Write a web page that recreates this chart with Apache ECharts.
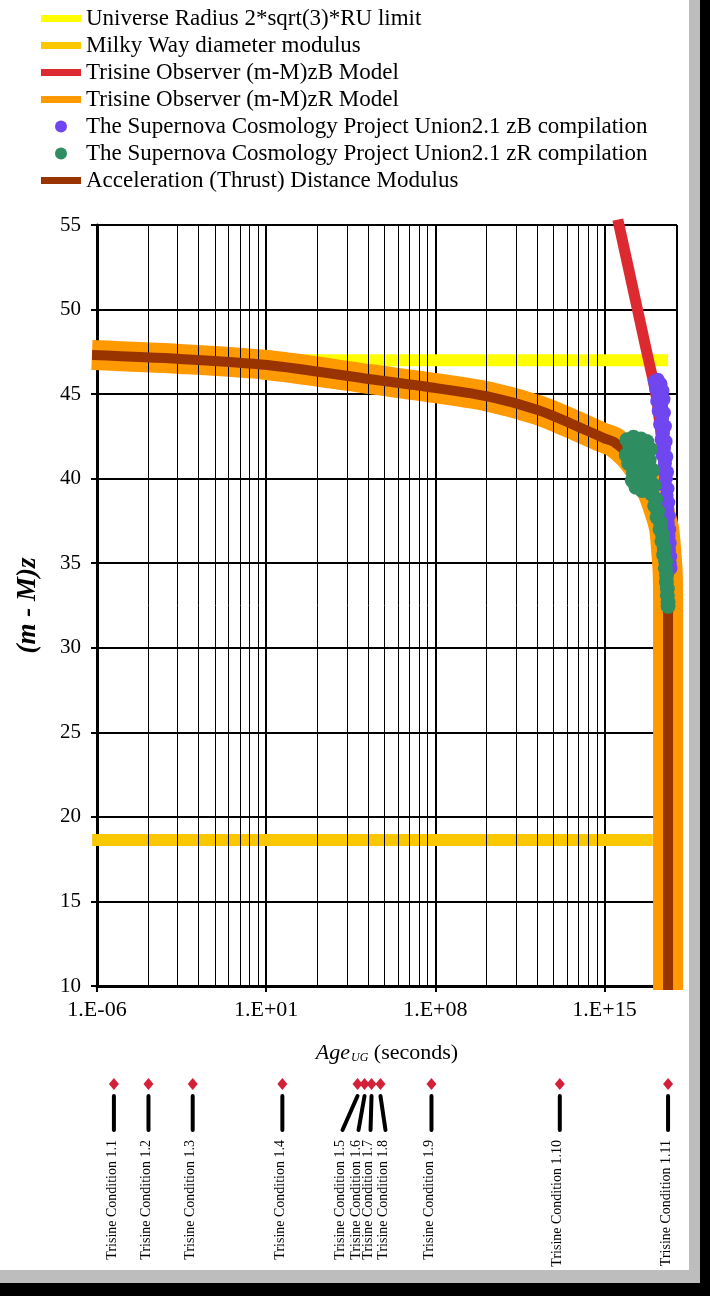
<!DOCTYPE html>
<html>
<head>
<meta charset="utf-8">
<script src="https://cdn.jsdelivr.net/npm/echarts@6/dist/echarts.min.js"></script>
<style>
  html, body { margin: 0; padding: 0; background: #000; }
  #sheet { position: absolute; left: 0; top: 0; width: 700px; height: 1283px; background: #bdbdbd; }
  #paper { position: absolute; left: 0; top: 0; width: 689px; height: 1270px; background: #fff; }
  #chart { position: absolute; left: 0; top: 0; width: 710px; height: 1296px; }
</style>
</head>
<body>
<div id="sheet"></div>
<div id="paper"></div>
<div id="chart"></div>
<script>
// Ages are stored as log10(age in seconds); magnitudes are distance moduli (m - M).
const xTickLabels = ['1.E-06', '1.E+01', '1.E+08', '1.E+15'];

const universeRadiusAge = [-6.0, 17.63];
const universeRadiusMu  = [47.0, 47.0];

const milkyWayAge = [-6.2, 17.0];
const milkyWayMu  = [18.63, 18.63];

const zBModelAge = [15.60, 15.99, 16.37, 16.64, 16.82, 17.01, 17.17, 17.32, 17.44, 17.56, 17.69, 17.75];
const zBModelMu  = [55.0, 52.46, 49.97, 48.20, 47.02, 45.83, 44.65, 42.88, 41.10, 38.74, 36.37, 34.89];

const zRModelAge = [-6.21, -2.56, 1.05, 5.32, 8.09, 10.17, 12.24, 13.61, 14.97, 15.39, 16.01, 16.59, 16.96, 17.25, 17.46, 17.54, 17.61, 17.63, 17.63];
const zRModelMu  = [47.31, 47.08, 46.72, 45.88, 45.34, 44.86, 44.06, 43.26, 42.40, 42.17, 41.40, 40.28, 39.27, 38.15, 37.08, 35.96, 34.60, 32.82, 9.76];

const thrustAge = [-6.21, -2.56, 1.05, 5.32, 8.09, 10.17, 12.24, 13.61, 14.97, 15.39, 16.01, 16.59, 16.96, 17.25, 17.46, 17.54, 17.61, 17.63, 17.63];
const thrustMu  = [47.31, 47.08, 46.72, 45.88, 45.34, 44.86, 44.06, 43.26, 42.40, 42.17, 41.40, 40.28, 39.27, 38.15, 37.08, 35.96, 34.60, 32.82, 9.76];

const union21zBAge = [17.08, 17.20, 17.32, 17.14, 17.40, 17.26, 17.18, 17.44, 17.34, 17.24, 17.46, 17.38, 17.30, 17.50, 17.42, 17.36, 17.53, 17.46, 17.40, 17.56, 17.50, 17.45, 17.59, 17.54, 17.50, 17.61, 17.57, 17.64, 17.60, 17.66, 17.62, 17.68, 17.65, 17.70, 17.67, 17.72, 17.70, 17.73];
const union21zBMu  = [45.75, 45.85, 45.60, 45.30, 45.20, 44.95, 44.60, 44.70, 44.30, 44.00, 43.90, 43.55, 43.20, 43.10, 42.70, 42.30, 42.20, 41.80, 41.40, 41.30, 40.90, 40.50, 40.40, 40.00, 39.60, 39.40, 39.00, 38.60, 38.20, 37.80, 37.40, 37.00, 36.60, 36.20, 35.80, 35.40, 35.00, 34.70];

const union21zRAge = [15.93, 16.20, 16.50, 16.75, 16.05, 16.38, 16.65, 16.90, 15.90, 16.22, 16.55, 16.85, 16.00, 16.35, 16.70, 17.00, 16.20, 16.50, 16.85, 16.15, 16.40, 16.30, 16.75, 16.55, 17.05, 16.95, 17.12, 17.08, 17.20, 17.18, 17.32, 17.30, 17.40, 17.38, 17.47, 17.45, 17.53, 17.52, 17.57, 17.56, 17.60, 17.60, 17.63, 17.63];
const union21zRMu  = [42.30, 42.45, 42.35, 42.20, 41.90, 41.85, 41.70, 41.75, 41.40, 41.30, 41.20, 41.10, 40.90, 40.70, 40.60, 40.50, 40.30, 40.10, 40.00, 39.90, 39.70, 39.50, 39.50, 39.30, 39.60, 39.10, 38.80, 38.40, 38.10, 37.70, 37.40, 37.00, 36.70, 36.30, 35.90, 35.50, 35.10, 34.70, 34.30, 33.90, 33.50, 33.10, 32.70, 32.45];

const conditionNames = ['Trisine Condition 1.1', 'Trisine Condition 1.2', 'Trisine Condition 1.3', 'Trisine Condition 1.4',
  'Trisine Condition 1.5', 'Trisine Condition 1.6', 'Trisine Condition 1.7', 'Trisine Condition 1.8',
  'Trisine Condition 1.9', 'Trisine Condition 1.10', 'Trisine Condition 1.11'];
const conditionAge = [-5.30, -3.87, -2.04, 1.67, 4.78, 5.07, 5.36, 5.73, 7.84, 13.15, 17.63];

// Layout: sideways nudge (px) of the leader ends so crowded labels do not collide.
const LEADER_SHIFT = [0, 0, 0, 0, -15, -6, -1, 5, 0, 0, 0];

// The age axis is counted from 1.E-06 so that 7-decade steps land on the labelled powers.
const AXIS_ORIGIN = -6;
const toAxis = e => e - AXIS_ORIGIN;
const pairs = (ages, mus) => ages.map((a, i) => [toAxis(a), mus[i]]);

// Minor verticals of a base-1e7 log axis: k * (1e7)^n for k = 2..9.
const minorGrid = [];
for (let band = 0; band < 3; band++) {
  for (let k = 2; k <= 9; k++) minorGrid.push({ xAxis: band * 7 + 7 * Math.log10(k) });
}

const SERIF = '"Liberation Serif", "Times New Roman", serif';
const COLORS = {
  universe: '#FFFF00', milky: '#F9C800', zB: '#DD2A30', zR: '#FF9900',
  sn_zB: '#7046F0', sn_zR: '#2F8D62', thrust: '#993300'
};
const barIcon = 'path://M0,0h40v7H0z';

const chart = echarts.init(document.getElementById('chart'), null, { renderer: 'canvas' });

const lineBase = { type: 'line', showSymbol: false, symbol: 'none', clip: false, animation: false, silent: true };

chart.setOption({
  backgroundColor: 'transparent',
  animation: false,
  legend: {
    orient: 'vertical', left: 36, top: 2,
    itemWidth: 40, itemHeight: 12, itemGap: 4,
    symbolKeepAspect: true,
    textStyle: { fontFamily: SERIF, fontSize: 23, color: '#000', lineHeight: 22 },
    selectedMode: false,
    data: [
      { name: 'Universe Radius 2*sqrt(3)*RU limit', icon: barIcon },
      { name: 'Milky Way diameter modulus', icon: barIcon },
      { name: 'Trisine Observer (m-M)zB Model', icon: barIcon },
      { name: 'Trisine Observer (m-M)zR Model', icon: barIcon },
      { name: 'The Supernova Cosmology Project Union2.1 zB compilation', icon: 'circle' },
      { name: 'The Supernova Cosmology Project Union2.1 zR compilation', icon: 'circle' },
      { name: 'Acceleration (Thrust) Distance Modulus', icon: barIcon }
    ]
  },
  grid: [
    { left: 97, top: 225, width: 580, height: 761 },
    { left: 97, top: 1084, width: 580, height: 20 }
  ],
  xAxis: [
    {
      type: 'value', gridIndex: 0, min: 0, max: 24, interval: 7,
      name: '{i|Age}{s|UG}{n| (seconds)}', nameLocation: 'middle', nameGap: 56,
      nameTextStyle: {
        rich: {
          i: { fontFamily: SERIF, fontSize: 22, fontStyle: 'italic', color: '#000' },
          s: { fontFamily: SERIF, fontSize: 12, fontStyle: 'italic', color: '#000', padding: [10, 0, 0, 1] },
          n: { fontFamily: SERIF, fontSize: 22, color: '#000' }
        }
      },
      axisLine: { show: true, onZero: false, lineStyle: { color: '#000', width: 3 } },
      axisTick: { show: true, length: 6, lineStyle: { color: '#000', width: 2 } },
      axisLabel: {
        fontFamily: SERIF, fontSize: 22, color: '#000', margin: 13, showMaxLabel: false,
        formatter: v => xTickLabels[Math.round(v / 7)] || ''
      },
      splitLine: { show: true, lineStyle: { color: '#000', width: 2 } }
    },
    { type: 'value', gridIndex: 1, min: 0, max: 24, show: false }
  ],
  yAxis: [
    {
      type: 'value', gridIndex: 0, min: 10, max: 55, interval: 5,
      name: '{a|(m - M)z}', nameLocation: 'middle', nameGap: 55, nameRotate: 90,
      nameTextStyle: { rich: { a: { fontFamily: SERIF, fontSize: 27, fontStyle: 'italic', fontWeight: 'bold', color: '#000' } } },
      axisLine: { show: true, lineStyle: { color: '#000', width: 3 } },
      axisTick: { show: true, length: 6, lineStyle: { color: '#000', width: 2 } },
      axisLabel: { fontFamily: SERIF, fontSize: 21, color: '#000', margin: 16 },
      splitLine: { show: true, lineStyle: { color: '#000', width: 2 } }
    },
    { type: 'value', gridIndex: 1, min: 0, max: 1, show: false }
  ],
  series: [
    {
      // minor vertical grid lines
      name: 'grid-minor', type: 'line', data: [], z: 1, silent: true, animation: false,
      markLine: {
        silent: true, animation: false, symbol: ['none', 'none'], label: { show: false },
        lineStyle: { color: '#000', width: 1, type: 'solid' }, data: minorGrid
      }
    },
    Object.assign({}, lineBase, {
      name: 'Universe Radius 2*sqrt(3)*RU limit', z: 2, color: COLORS.universe,
      lineStyle: { width: 12, cap: 'butt' }, data: pairs(universeRadiusAge, universeRadiusMu)
    }),
    Object.assign({}, lineBase, {
      name: 'Milky Way diameter modulus', z: 2, color: COLORS.milky,
      lineStyle: { width: 12, cap: 'butt' }, data: pairs(milkyWayAge, milkyWayMu)
    }),
    Object.assign({}, lineBase, {
      name: 'Trisine Observer (m-M)zB Model', z: 3, color: COLORS.zB,
      lineStyle: { width: 11, cap: 'square', join: 'round' }, data: pairs(zBModelAge, zBModelMu)
    }),
    Object.assign({}, lineBase, {
      name: 'Trisine Observer (m-M)zR Model', z: 4, color: COLORS.zR, smooth: 0.3,
      lineStyle: { width: 30, cap: 'butt', join: 'round' }, data: pairs(zRModelAge, zRModelMu)
    }),
    Object.assign({}, lineBase, {
      name: 'Acceleration (Thrust) Distance Modulus', z: 5, color: COLORS.thrust, smooth: 0.3,
      lineStyle: { width: 10, cap: 'butt', join: 'round' }, data: pairs(thrustAge, thrustMu)
    }),
    {
      name: 'The Supernova Cosmology Project Union2.1 zB compilation', type: 'scatter', z: 6,
      color: COLORS.sn_zB, symbol: 'circle', symbolSize: 14, silent: true, animation: false,
      itemStyle: { opacity: 1 }, data: pairs(union21zBAge, union21zBMu)
    },
    {
      name: 'The Supernova Cosmology Project Union2.1 zR compilation', type: 'scatter', z: 7,
      color: COLORS.sn_zR, symbol: 'circle', symbolSize: 15, silent: true, animation: false,
      itemStyle: { opacity: 1 }, data: pairs(union21zRAge, union21zRMu)
    },
    {
      // condition markers under the age axis
      name: 'conditions', type: 'custom', xAxisIndex: 1, yAxisIndex: 1, clip: false,
      silent: true, animation: false,
      data: conditionAge.map((a, i) => [toAxis(a), i]),
      renderItem: (params, api) => {
        const i = api.value(1);
        const p = api.coord([api.value(0), 1]);
        const x = p[0], y = p[1];
        const bx = x + LEADER_SHIFT[i];
        return {
          type: 'group',
          children: [
            { type: 'polygon', shape: { points: [[x, y - 6], [x + 5, y], [x, y + 6], [x - 5, y]] },
              style: { fill: '#D4213A' } },
            { type: 'line', shape: { x1: x, y1: y + 12, x2: bx, y2: y + 46 },
              style: { stroke: '#000', lineWidth: 4, lineCap: 'round' } },
            { type: 'text', x: bx - 2, y: y + 56, rotation: Math.PI / 2,
              style: { text: conditionNames[i], fill: '#000', font: '14px ' + SERIF,
                       align: 'right', verticalAlign: 'middle', textAlign: 'right', textVerticalAlign: 'middle' } }
          ]
        };
      }
    }
  ]
});
</script>
</body>
</html>
